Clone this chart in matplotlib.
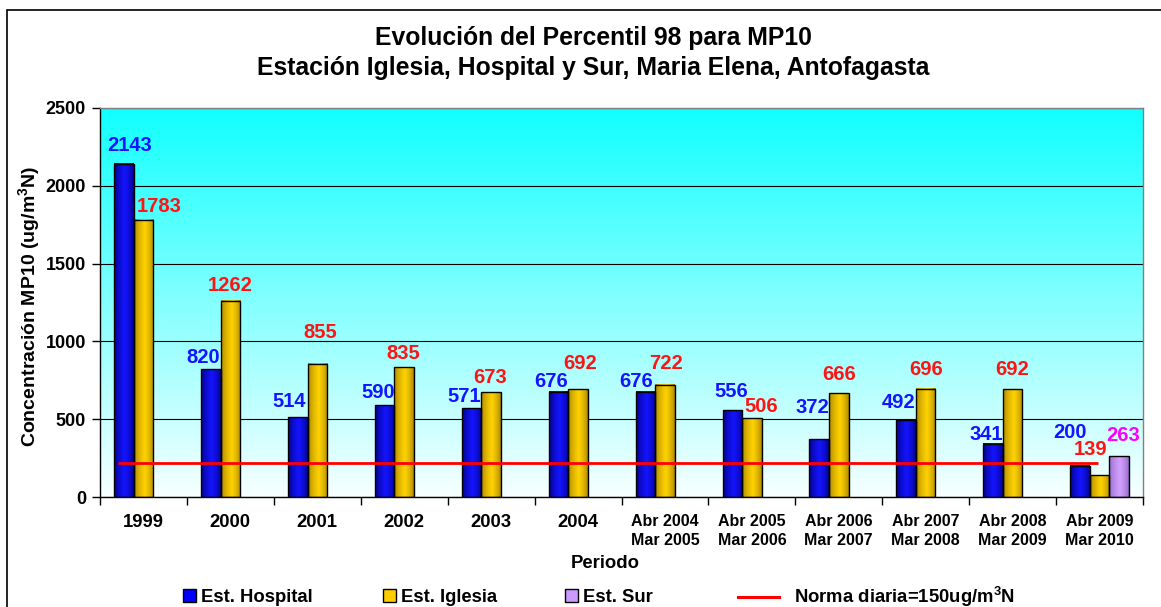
import numpy as np
import matplotlib
matplotlib.use("Agg")
import matplotlib.pyplot as plt
from matplotlib.patches import Rectangle
from matplotlib.lines import Line2D

plt.rcParams['font.family'] = ['Liberation Sans', 'DejaVu Sans']
plt.rcParams['font.weight'] = 'bold'
plt.rcParams['mathtext.fontset'] = 'custom'
plt.rcParams['mathtext.rm'] = 'Liberation Sans:bold'
plt.rcParams['mathtext.bf'] = 'Liberation Sans:bold'

# ---------------- data ----------------
categories = ['1999', '2000', '2001', '2002', '2003', '2004',
              'Abr 2004\nMar 2005', 'Abr 2005\nMar 2006', 'Abr 2006\nMar 2007',
              'Abr 2007\nMar 2008', 'Abr 2008\nMar 2009', 'Abr 2009\nMar 2010']
hospital = [2143, 820, 514, 590, 571, 676, 676, 556, 372, 492, 341, 200]
iglesia = [1783, 1262, 855, 835, 673, 692, 722, 506, 666, 696, 692, 139]
sur = [None, None, None, None, None, None, None, None, None, None, None, 263]
norma_val = 220
y_ticks = [0, 500, 1000, 1500, 2000, 2500]

# ---------------- style: label nudges (pixels) ----------------
off_h = [(6, 13), (-8, 6), (-9, 10), (-6, 7), (-7, 6), (-7, 5), (-9, 5), (-1, 13),
         (-7, 26), (-8, 12), (-7, 4), (-10, 28)]
off_i = [(16, 8), (0, 10), (3, 26), (-1, 8), (-1, 9), (2, 20), (1, 16), (9, 6),
         (0, 13), (0, 14), (0, 14), (-9, 20)]
off_s = (4, 15)

W, H = 1161, 607
fig = plt.figure(figsize=(W / 100, H / 100), dpi=100)
ax = fig.add_axes([100 / W, (H - 497) / H, (1143 - 100) / W, (497 - 108) / H])

n = len(categories)
x = np.arange(n)
bw = 0.225

# background gradient
t = np.linspace(0, 1, 256)[:, None]
r = 247 - 230 * t
bg = np.dstack([r / 255, np.ones_like(r), np.ones_like(r)])
ax.imshow(bg, extent=[-0.5, n - 0.5, 0, 2500], origin='lower', aspect='auto', zorder=0)


def bar_grad(c_center, c_edge, peak=0.55, m=64):
    s = np.linspace(0, 1, m)
    f = np.where(s < peak, s / peak, (1 - s) / (1 - peak))
    f = f ** 0.6
    cc = np.array(c_center) / 255
    ce = np.array(c_edge) / 255
    img = ce[None, :] + (cc - ce)[None, :] * f[:, None]
    return img[None, :, :]


def draw_bars(xs, vals, c_center, c_edge):
    bars = ax.bar(xs, vals, width=bw, facecolor='none', edgecolor='black', linewidth=1.0, zorder=3)
    img = bar_grad(c_center, c_edge)
    for b in bars:
        x0, y0 = b.get_x(), b.get_y()
        ax.imshow(img, extent=[x0, x0 + b.get_width(), y0, y0 + b.get_height()],
                  aspect='auto', zorder=2, interpolation='bilinear')
    return bars


blue_c, blue_e = (20, 20, 255), (0, 0, 120)
gold_c, gold_e = (255, 210, 0), (160, 125, 0)
pur_c, pur_e = (210, 160, 255), (140, 100, 190)

draw_bars(x - bw, hospital, blue_c, blue_e)
draw_bars(x, iglesia, gold_c, gold_e)
sur_idx = [i for i, v in enumerate(sur) if v is not None]
draw_bars(x[sur_idx] + bw, [sur[i] for i in sur_idx], pur_c, pur_e)

# norma line
ax.hlines(norma_val, -0.29, n - 1.02, color='red', linewidth=2, zorder=4)

# value labels
lab_fs = 14.5
for i, v in enumerate(hospital):
    ax.annotate(str(v), (x[i] - bw, v), xytext=off_h[i], textcoords='offset pixels',
                ha='center', va='baseline', color='#1414FF', fontsize=lab_fs, fontweight='bold', zorder=5)
for i, v in enumerate(iglesia):
    ax.annotate(str(v), (x[i], v), xytext=off_i[i], textcoords='offset pixels',
                ha='center', va='baseline', color='#FF1414', fontsize=lab_fs, fontweight='bold', zorder=5)
for i in sur_idx:
    ax.annotate(str(sur[i]), (x[i] + bw, sur[i]), xytext=off_s, textcoords='offset pixels',
                ha='center', va='baseline', color='#FF00FF', fontsize=lab_fs, fontweight='bold', zorder=5)

# axes
ax.set_xlim(-0.5, n - 0.5)
ax.set_ylim(0, 2500)
ax.set_yticks(y_ticks)
ax.set_yticklabels([str(v) for v in y_ticks], fontsize=13, fontweight='bold')
ax.tick_params(axis='y', length=6, width=1, pad=4, direction='out')
ax.yaxis.grid(True, color='black', linewidth=0.8)
ax.set_axisbelow(True)

ax.set_xticks(np.arange(n + 1) - 0.5)
ax.set_xticklabels([])
ax.set_xticks(x, minor=True)
ax.set_xticklabels(categories, minor=True, fontweight='bold', linespacing=1.35)
ax.tick_params(axis='x', which='major', length=6, width=1, direction='out')
ax.tick_params(axis='x', which='minor', length=0, pad=12)
for tl in ax.get_xticklabels(minor=True):
    tl.set_fontsize(11.5 if '\n' in tl.get_text() else 13.3)

for s in ['left', 'bottom']:
    ax.spines[s].set_color('black')
    ax.spines[s].set_linewidth(1)
for s in ['top', 'right']:
    ax.spines[s].set_color('#808080')
    ax.spines[s].set_linewidth(1)

# texts
fig.text(593 / W, 1 - 38 / H, 'Evolución del Percentil 98 para MP10', ha='center', va='center',
         fontsize=17.8, fontweight='bold')
fig.text(593 / W, 1 - 68 / H, 'Estación Iglesia, Hospital y Sur, Maria Elena, Antofagasta',
         ha='center', va='center', fontsize=17.8, fontweight='bold')
fig.text(30 / W, 1 - 306 / H, r'Concentración MP10 (ug/m$^{3}$N)', rotation=90,
         ha='center', va='center', fontsize=14, fontweight='bold')
fig.text(605 / W, 1 - 563 / H, 'Periodo', ha='center', va='center', fontsize=13.3, fontweight='bold')

# legends
leg_y = 1 - 597 / H
items = [
    (Rectangle((0, 0), 1, 1, facecolor='#0000FF', edgecolor='black'), 'Est. Hospital', 183),
    (Rectangle((0, 0), 1, 1, facecolor='#FFCC00', edgecolor='black'), 'Est. Iglesia', 383),
    (Rectangle((0, 0), 1, 1, facecolor='#CC99FF', edgecolor='black'), 'Est. Sur', 565),
]
for h, lab, px in items:
    fig.legend(handles=[h], labels=[lab], loc='center left', bbox_to_anchor=(px / W, leg_y),
               frameon=False, handlelength=0.7, handleheight=0.7,
               handletextpad=0.3, borderpad=0, borderaxespad=0, prop={'weight': 'bold', 'size': 13.3})
fig.legend(handles=[Line2D([0], [0], color='red', linewidth=2.2)],
           labels=[r'Norma diaria=150ug/m$^{3}$N'], loc='center left',
           bbox_to_anchor=(738 / W, leg_y), frameon=False, handlelength=2.2,
           handletextpad=0.85, borderpad=0, borderaxespad=0, prop={'weight': 'bold', 'size': 13.3})

# outer border
fig.patches.append(Rectangle((7 / W, -0.1), 1.2, 1.1 - 10 / H, transform=fig.transFigure,
                             fill=False, edgecolor='black', linewidth=1.2))

fig.savefig('out.png', dpi=100)
